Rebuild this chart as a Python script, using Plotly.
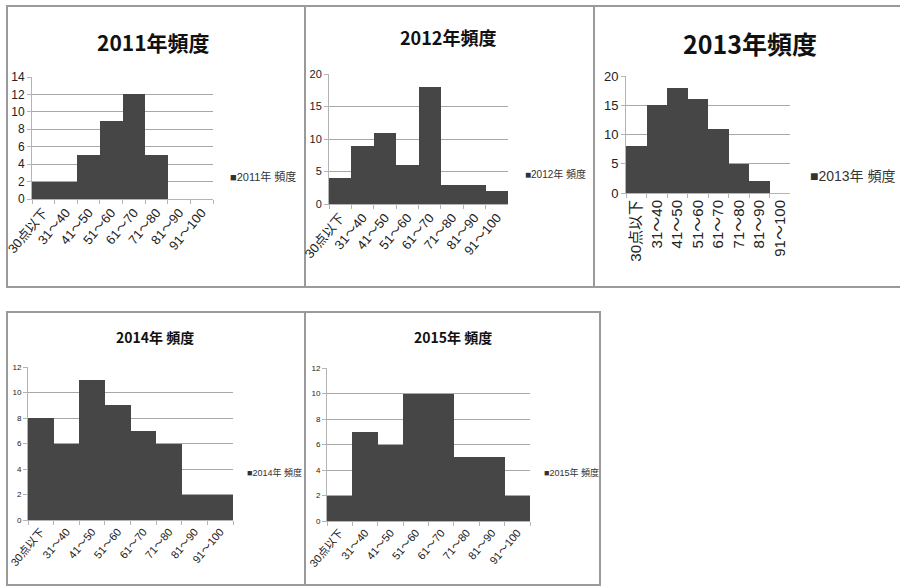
import plotly.graph_objects as go

# Score bands shared by every year
categories = ["30点以下", "31～40", "41～50", "51～60", "61～70", "71～80", "81～90", "91～100"]

# Frequency per score band, one list per year
freq_2011 = [2, 2, 5, 9, 12, 5, 0, 0]
freq_2012 = [4, 9, 11, 6, 18, 3, 3, 2]
freq_2013 = [8, 15, 18, 16, 11, 5, 2, 0]
freq_2014 = [8, 6, 11, 9, 7, 6, 2, 2]
freq_2015 = [2, 7, 6, 10, 10, 5, 5, 2]

years = ["2011", "2012", "2013", "2014", "2015"]
titles = ["2011年頻度", "2012年頻度", "2013年頻度", "2014年 頻度", "2015年 頻度"]
legend_names = ["2011年 頻度", "2012年 頻度", "2013年 頻度", "2014年 頻度", "2015年 頻度"]
y_max = [14, 20, 20, 12, 12]
y_step = [2, 5, 5, 2, 2]
series = [freq_2011, freq_2012, freq_2013, freq_2014, freq_2015]

W, H = 900, 588
BAR = "#464646"
GRID = "#a8a8a8"
AXIS = "#b4b4b4"
FONT = "Liberation Sans, Noto Sans CJK JP, sans-serif"
CJK = "Noto Sans CJK JP, sans-serif"


def px(x):
    return x / W


def py(y):
    return 1 - y / H


# Plot-area placement for each panel in pixels: (left, right, top, bottom)
plot_boxes = [
    (32, 213, 77, 199),
    (329, 508, 74, 204),
    (626, 790, 76, 193),
    (28, 233, 367, 520),
    (327, 530, 368, 521),
]
tick_angles = [-50, -50, -90, -50, -50]
xtick_sizes = [13, 13, 15, 11, 11]
ytick_sizes = [12, 11, 13, 8, 8]

# Panel frames: (x0, y0, x1, y1)
frames = [
    (7, 6, 305, 287),
    (305, 6, 594, 287),
    (594, 6, 905, 287),
    (7, 312, 305, 585),
    (305, 312, 600, 585),
]

# Title annotations: (center x, center y, size)
title_pos = [(153, 42, 21), (448, 37, 18), (750, 43, 25), (155, 337, 14), (453, 337, 14)]
# Series-name annotations: (left x, center y, size)
legend_pos = [(228, 176, 11), (523, 174, 10), (808, 176, 14), (245, 472, 9), (542, 472, 9)]

fig = go.Figure()
layout = dict(
    width=W,
    height=H,
    margin=dict(l=0, r=0, t=0, b=0, autoexpand=False),
    paper_bgcolor="white",
    plot_bgcolor="white",
    showlegend=False,
    bargap=0,
    font=dict(family=FONT, color="#222"),
)

annotations = []
shapes = []

for i, (yr, vals) in enumerate(zip(years, series)):
    n = "" if i == 0 else str(i + 1)
    fig.add_trace(
        go.Bar(
            x=categories,
            y=vals,
            name=legend_names[i],
            marker=dict(color=BAR, line=dict(width=0)),
            xaxis="x" + n,
            yaxis="y" + n,
        )
    )
    l, r, t, b = plot_boxes[i]
    layout["xaxis" + n] = dict(
        domain=[px(l), px(r)],
        anchor="y" + n,
        type="category",
        automargin=False,
        showgrid=False,
        showline=True,
        linecolor=AXIS,
        linewidth=1,
        ticks="outside",
        tickson="boundaries",
        ticklen=4,
        tickcolor=AXIS,
        tickangle=tick_angles[i],
        tickfont=dict(size=xtick_sizes[i], family=FONT, color="#222"),
        fixedrange=True,
    )
    layout["yaxis" + n] = dict(
        domain=[py(b), py(t)],
        anchor="x" + n,
        automargin=False,
        range=[0, y_max[i]],
        dtick=y_step[i],
        showgrid=True,
        gridcolor=GRID,
        gridwidth=1,
        showline=True,
        linecolor=AXIS,
        linewidth=1,
        ticks="outside",
        ticklen=4,
        tickcolor=AXIS,
        zeroline=False,
        tickfont=dict(size=ytick_sizes[i], family=FONT, color="#222"),
        fixedrange=True,
    )

    cx, cy, fs = title_pos[i]
    annotations.append(
        dict(
            text="<b>" + titles[i] + "</b>",
            x=px(cx), y=py(cy), xref="paper", yref="paper",
            xanchor="center", yanchor="middle", showarrow=False,
            font=dict(size=fs, family=CJK, color="#111"),
        )
    )
    lx, ly, ls = legend_pos[i]
    annotations.append(
        dict(
            text="■" + legend_names[i],
            x=px(lx), y=py(ly), xref="paper", yref="paper",
            xanchor="left", yanchor="middle", showarrow=False,
            font=dict(size=ls, family=FONT, color="#333"),
        )
    )

    x0, y0, x1, y1 = frames[i]
    shapes.append(
        dict(
            type="rect", xref="paper", yref="paper",
            x0=px(x0), x1=px(x1), y0=py(y1), y1=py(y0),
            line=dict(color="#9a9a9a", width=2),
            fillcolor="rgba(0,0,0,0)", layer="below",
        )
    )

layout["annotations"] = annotations
layout["shapes"] = shapes
fig.update_layout(**layout)

fig.write_html("out.html")
